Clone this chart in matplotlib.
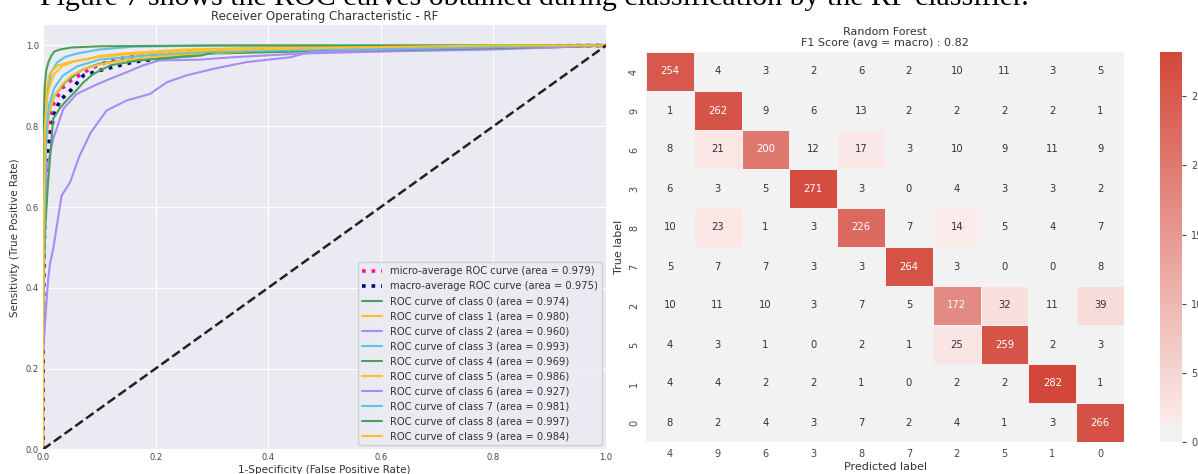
import matplotlib
matplotlib.use("Agg")
import matplotlib.pyplot as plt
import numpy as np
from matplotlib.colors import ListedColormap, to_rgb

# ---------------- data ----------------
caption = "Figure 7 shows the ROC curves obtained during classification by the RF classifier."

fpr_micro = [0, 0, 0.001, 0.004, 0.01, 0.02, 0.035, 0.045, 0.083, 0.12, 0.173, 0.25, 0.40, 0.60, 0.80, 1.0]
tpr_micro = [0, 0.20, 0.45, 0.70, 0.80, 0.86, 0.895, 0.909, 0.942, 0.963, 0.977, 0.985, 0.99, 0.995, 0.998, 1.0]
fpr_macro = [0, 0, 0.001, 0.004, 0.01, 0.02, 0.03, 0.05, 0.072, 0.10, 0.16, 0.248, 0.33, 0.50, 0.70, 1.0]
tpr_macro = [0, 0.20, 0.40, 0.65, 0.76, 0.83, 0.864, 0.89, 0.926, 0.938, 0.959, 0.975, 0.987, 0.995, 0.998, 1.0]
auc_micro = 0.979
auc_macro = 0.975

fpr0 = [0, 0, 0.002, 0.005, 0.01, 0.02, 0.04, 0.07, 0.10, 0.15, 0.30, 0.60, 0.90, 1.0]
tpr0 = [0, 0.30, 0.55, 0.76, 0.83, 0.875, 0.91, 0.94, 0.955, 0.965, 0.98, 0.99, 0.995, 1.0]
fpr1 = [0, 0, 0.002, 0.005, 0.01, 0.02, 0.035, 0.05, 0.07, 0.10, 0.15, 0.25, 0.40, 0.70, 1.0]
tpr1 = [0, 0.25, 0.45, 0.74, 0.83, 0.875, 0.905, 0.925, 0.94, 0.953, 0.965, 0.978, 0.988, 0.995, 1.0]
fpr2 = [0, 0, 0.003, 0.0066, 0.018, 0.036, 0.06, 0.09, 0.12, 0.149, 0.178, 0.207, 0.279, 0.338, 0.456, 0.60, 0.80, 1.0]
tpr2 = [0, 0.35, 0.55, 0.694, 0.768, 0.843, 0.88, 0.90, 0.918, 0.934, 0.951, 0.963, 0.965, 0.971, 0.98, 0.985, 0.99, 1.0]
fpr3 = [0, 0, 0.002, 0.004, 0.008, 0.015, 0.025, 0.04, 0.06, 0.10, 0.16, 0.30, 1.0]
tpr3 = [0, 0.35, 0.60, 0.82, 0.89, 0.935, 0.958, 0.972, 0.98, 0.99, 0.997, 1.0, 1.0]
fpr4 = [0, 0, 0.004, 0.009, 0.018, 0.03, 0.042, 0.06, 0.072, 0.09, 0.12, 0.17, 0.28, 0.31, 0.60, 0.877, 0.88, 1.0]
tpr4 = [0, 0.40, 0.55, 0.66, 0.818, 0.845, 0.864, 0.89, 0.909, 0.93, 0.951, 0.963, 0.975, 0.985, 0.988, 0.996, 1.0, 1.0]
fpr5 = [0, 0, 0.001, 0.003, 0.006, 0.012, 0.025, 0.05, 0.08, 0.10, 0.14, 0.25, 0.40, 0.60, 1.0]
tpr5 = [0, 0.35, 0.60, 0.84, 0.895, 0.93, 0.95, 0.96, 0.966, 0.974, 0.98, 0.99, 0.995, 1.0, 1.0]
fpr6 = [0, 0, 0.002, 0.009, 0.0125, 0.018, 0.033, 0.048, 0.065, 0.085, 0.113, 0.149, 0.19, 0.22, 0.255, 0.302, 0.362, 0.44, 0.474, 0.675, 0.95, 1.0]
tpr6 = [0, 0.23, 0.28, 0.42, 0.46, 0.495, 0.628, 0.661, 0.727, 0.785, 0.839, 0.864, 0.88, 0.909, 0.926, 0.942, 0.959, 0.971, 0.984, 0.992, 1.0, 1.0]
fpr7 = [0, 0, 0.002, 0.005, 0.01, 0.02, 0.035, 0.06, 0.10, 0.18, 0.30, 0.50, 0.70, 1.0]
tpr7 = [0, 0.30, 0.50, 0.76, 0.85, 0.895, 0.925, 0.948, 0.965, 0.975, 0.985, 0.99, 0.995, 1.0]
fpr8 = [0, 0, 0.001, 0.003, 0.006, 0.01, 0.015, 0.02, 0.03, 0.05, 0.10, 0.30, 1.0]
tpr8 = [0, 0.30, 0.80, 0.90, 0.94, 0.96, 0.975, 0.985, 0.99, 0.995, 0.998, 1.0, 1.0]
fpr9 = [0, 0, 0.001, 0.003, 0.006, 0.012, 0.02, 0.035, 0.06, 0.09, 0.15, 0.30, 0.50, 0.80, 1.0]
tpr9 = [0, 0.30, 0.50, 0.78, 0.86, 0.90, 0.93, 0.95, 0.962, 0.97, 0.978, 0.988, 0.994, 1.0, 1.0]
class_auc = [0.974, 0.980, 0.960, 0.993, 0.969, 0.986, 0.927, 0.981, 0.997, 0.984]

cm_labels = ["4", "9", "6", "3", "8", "7", "2", "5", "1", "0"]
cm_row_4 = [254, 4, 3, 2, 6, 2, 10, 11, 3, 5]
cm_row_9 = [1, 262, 9, 6, 13, 2, 2, 2, 2, 1]
cm_row_6 = [8, 21, 200, 12, 17, 3, 10, 9, 11, 9]
cm_row_3 = [6, 3, 5, 271, 3, 0, 4, 3, 3, 2]
cm_row_8 = [10, 23, 1, 3, 226, 7, 14, 5, 4, 7]
cm_row_7 = [5, 7, 7, 3, 3, 264, 3, 0, 0, 8]
cm_row_2 = [10, 11, 10, 3, 7, 5, 172, 32, 11, 39]
cm_row_5 = [4, 3, 1, 0, 2, 1, 25, 259, 2, 3]
cm_row_1 = [4, 4, 2, 2, 1, 0, 2, 2, 282, 1]
cm_row_0 = [8, 2, 4, 3, 7, 2, 4, 1, 3, 266]
f1_macro = 0.82

# ---------------- style ----------------
plt.style.use("seaborn-v0_8-darkgrid")
plt.rcParams["font.family"] = ["DejaVu Sans"]

fig = plt.figure(figsize=(11.98, 4.74), dpi=100, facecolor="white")

fig.text(40/1198, 1 - 5/474, caption, family="Liberation Serif", fontsize=21.5,
         ha="left", va="baseline", color="black")

# ---------------- ROC ----------------
ax = fig.add_axes([43/1198, 1 - 449.3/474, (606-43)/1198, 424/474])
ax.set_facecolor("#EAEAF2")

ax.plot(fpr_micro, tpr_micro, color="deeppink", linestyle=":", linewidth=2.6,
        label="micro-average ROC curve (area = {0:0.3f})".format(auc_micro))
ax.plot(fpr_macro, tpr_macro, color="navy", linestyle=":", linewidth=2.6,
        label="macro-average ROC curve (area = {0:0.3f})".format(auc_macro))

cols = ["#4c9f5b", "#fbc02d", "#a98bf5", "#5bc4e5"]
fprs = [fpr0, fpr1, fpr2, fpr3, fpr4, fpr5, fpr6, fpr7, fpr8, fpr9]
tprs = [tpr0, tpr1, tpr2, tpr3, tpr4, tpr5, tpr6, tpr7, tpr8, tpr9]
for i in range(10):
    ax.plot(fprs[i], tprs[i], color=cols[i % 4], linewidth=1.5,
            label="ROC curve of class {0} (area = {1:0.3f})".format(i, class_auc[i]))

ax.plot([0, 1], [0, 1], linestyle="--", linewidth=1.8, color="#222222")
ax.set_xlim(0.0, 1.0)
ax.set_ylim(0.0, 1.05)
ax.set_xticks([0, 0.2, 0.4, 0.6, 0.8, 1.0])
ax.set_yticks([0, 0.2, 0.4, 0.6, 0.8, 1.0])
ax.tick_params(labelsize=6, colors="#444444", pad=3)
ax.set_xlabel("1-Specificity (False Positive Rate)", fontsize=7.5, color="#333333", labelpad=2)
ax.set_ylabel("Sensitivity (True Positive Rate)", fontsize=7.5, color="#333333", labelpad=4)
ax.set_title("Receiver Operating Characteristic - RF", fontsize=8.5, color="#333333", pad=4)
leg = ax.legend(loc="lower right", fontsize=7.2, frameon=True, facecolor="#EAEAF2",
                edgecolor="#cccccc", framealpha=0.9, borderaxespad=0.4)
for t in leg.get_texts():
    t.set_color("#333333")

# ---------------- confusion matrix ----------------
cm = np.array([cm_row_4, cm_row_9, cm_row_6, cm_row_3, cm_row_8,
               cm_row_7, cm_row_2, cm_row_5, cm_row_1, cm_row_0])
vmax = cm.max()
ncol = 256
thr = 12.9
grey = np.array(to_rgb("#f2f2f2"))
lo = np.array(to_rgb("#fbeceb"))
hi = np.array(to_rgb("#d3473a"))
vals = (np.arange(ncol) + 0.5) / ncol * vmax
colors = []
for v in vals:
    if v < thr:
        colors.append(grey)
    else:
        t = (v - thr) / (vmax - thr)
        colors.append(lo + (hi - lo) * t)
cmap = ListedColormap(colors)

hx0, hx1 = 646/1198, 1124/1198
hy0, hy1 = 1 - 442/474, 1 - 52/474
axh = fig.add_axes([hx0, hy0, hx1 - hx0, hy1 - hy0])
n = cm.shape[0]
mesh = axh.pcolormesh(np.arange(n + 1), np.arange(n + 1), cm, cmap=cmap,
                      vmin=0, vmax=vmax, edgecolors="#f2f2f2", linewidth=0.5)
axh.set_xlim(0, n)
axh.set_ylim(n, 0)
axh.grid(False)
for s in axh.spines.values():
    s.set_visible(False)
for r in range(n):
    for c in range(n):
        v = cm[r, c]
        axh.text(c + 0.5, r + 0.5, str(v), ha="center", va="center", fontsize=7.2,
                 color="white" if v > 100 else "#333333")
axh.set_xticks(np.arange(n) + 0.5)
axh.set_yticks(np.arange(n) + 0.5)
axh.set_xticklabels(cm_labels)
axh.set_yticklabels(cm_labels, rotation=90, va="center")
axh.tick_params(length=0, labelsize=7, colors="#444444", pad=5)
axh.set_xlabel("Predicted label", fontsize=8, color="#333333", labelpad=2)
axh.set_ylabel("True label", fontsize=8, color="#333333", labelpad=4)
axh.set_title("Random Forest\nF1 Score (avg = macro) : {:.2f}".format(f1_macro),
              fontsize=8, color="#333333", pad=4, linespacing=1.2)

cax = fig.add_axes([1160/1198, hy0, 22/1198, hy1 - hy0])
cb = fig.colorbar(mesh, cax=cax)
cb.outline.set_visible(False)
cb.set_ticks([0, 50, 100, 150, 200, 250])
cax.tick_params(labelsize=7, colors="#444444", length=3, width=0.8, direction="out")
cax.grid(False)

fig.savefig("out.png", dpi=100, facecolor="white")
